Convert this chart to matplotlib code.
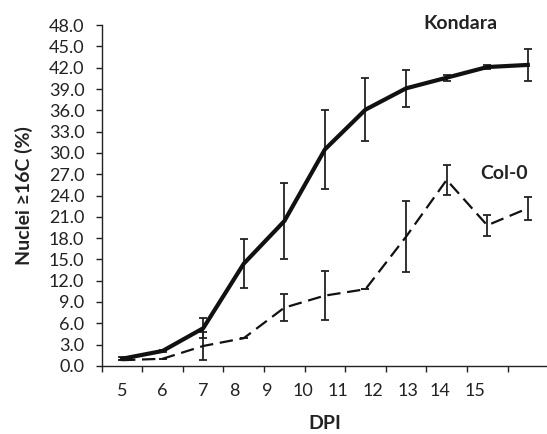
import matplotlib
matplotlib.use("Agg")
import matplotlib.pyplot as plt
import numpy as np

plt.rcParams['font.family'] = ['Lato', 'DejaVu Sans']

dpi_labels = ["5", "6", "7", "8", "9", "10", "11", "12", "13", "14", "15"]
kondara = [1.0, 2.1, 5.3, 14.4, 20.4, 30.5, 36.1, 39.1, 40.6, 42.1, 42.4]
kondara_err = [0.2, 0.2, 1.4, 3.5, 5.3, 5.6, 4.45, 2.65, 0.4, 0.3, 2.2]
col0 = [0.8, 1.0, 2.8, 3.9, 8.2, 9.9, 10.8, 18.2, 26.2, 19.8, 22.2]
col0_err = [0.0, 0.0, 2.0, 0.0, 1.9, 3.4, 0.0, 5.0, 2.1, 1.5, 1.6]
# label positions (in category units) as placed in the original figure
label_pos = [0, 1.0, 2.0, 2.76, 3.59, 4.46, 5.31, 6.18, 7.04, 7.83, 8.69]

x = np.arange(len(kondara))
txt = '#222222'

fig = plt.figure(figsize=(5.47, 4.34), dpi=100)
ax = fig.add_axes([0.186, 0.157, 0.816, 0.785])

ax.errorbar(x, kondara, yerr=kondara_err, color='#111111', lw=3.0,
            ecolor='#222222', elinewidth=1.3, capsize=3, capthick=1.3, zorder=3)
ax.errorbar(x, col0, yerr=col0_err, color='#111111', lw=1.6,
            linestyle=(0, (6, 3)), ecolor='#222222', elinewidth=1.3,
            capsize=3, capthick=1.3, zorder=3)

ax.set_xlim(-0.5, len(x) - 0.5)
ax.set_ylim(0, 48)
ax.set_yticks(np.arange(0, 49, 3))
ax.set_yticklabels([f"{v:.1f}" for v in np.arange(0, 49, 3)], fontsize=13, color=txt)

ax.set_xticks(label_pos)
ax.set_xticklabels(dpi_labels, fontsize=13, color=txt)
ax.set_xticks(np.arange(-0.5, len(x) + 0.5, 1), minor=True)
ax.tick_params(axis='x', which='major', length=0, pad=12)
ax.tick_params(axis='x', which='minor', length=4, width=1, direction='out', color=txt)
ax.tick_params(axis='y', length=4, width=1, direction='out', pad=8.5, color=txt)

for s in ['top', 'right']:
    ax.spines[s].set_visible(False)
for s in ['left', 'bottom']:
    ax.spines[s].set_color(txt)
    ax.spines[s].set_linewidth(1.0)

ax.set_xlabel("DPI", fontsize=14, fontweight='bold', color=txt, labelpad=12)
ax.set_ylabel("Nuclei ≥16C (%)", fontsize=14, fontweight='bold', color=txt, labelpad=11)

ax.text(8.33, 48.2, "Kondara", fontsize=14, fontweight='bold', color=txt,
        ha='center', va='center', clip_on=False)
ax.text(9.41, 27.1, "Col-0", fontsize=14, fontweight='bold', color=txt,
        ha='center', va='center', clip_on=False)

fig.savefig("out.png", dpi=100)
